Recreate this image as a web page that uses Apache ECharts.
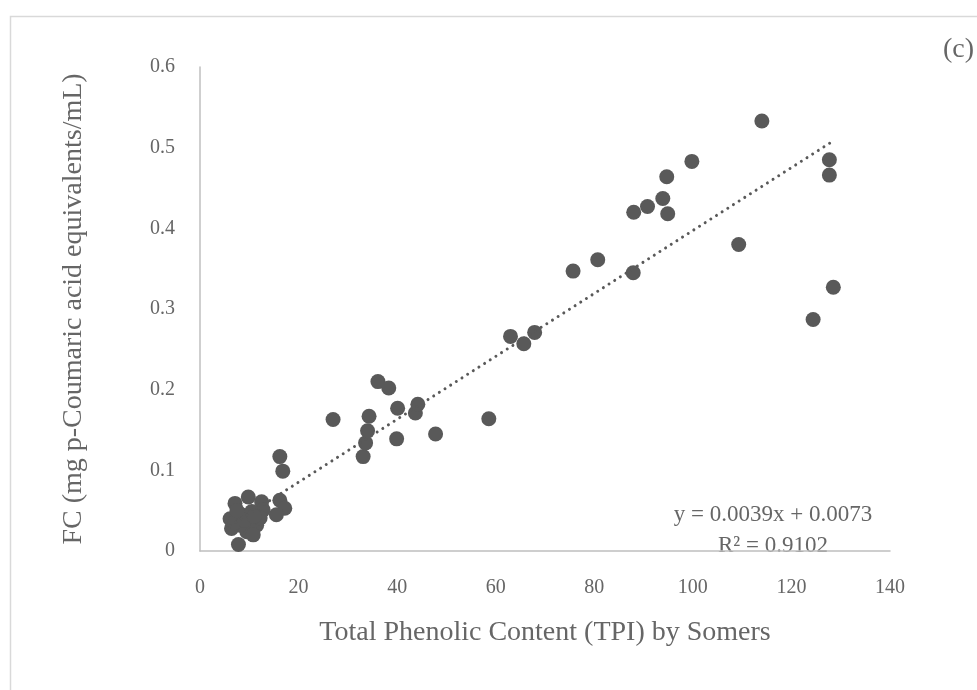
<!DOCTYPE html>
<html>
<head>
<meta charset="utf-8">
<script src="https://cdn.jsdelivr.net/npm/echarts@6/dist/echarts.min.js"></script>
<style>
  html, body { margin: 0; padding: 0; background: #fff; }
  #chart { width: 977px; height: 690px; }
</style>
</head>
<body>
<div id="chart"></div>
<script>
// TPI (Somers) values
var tpi = [
  7.1, 9.8, 12.5, 12.8, 6.1, 6.4, 7.8, 9.5, 11.5, 12.2, 8.4, 10.5, 8.1, 10.8, 7.0, 9.0, 11.0, 7.5,
  16.2, 17.2, 15.5, 16.2, 16.8,
  27.0, 33.1, 33.6, 34.0, 34.3, 36.1, 38.3, 39.9, 40.1, 43.7, 44.2, 47.8, 58.6,
  63.0, 65.7, 67.9, 75.7, 80.7, 87.9, 88.0, 90.8, 93.9, 94.9, 94.7, 99.8,
  109.3, 114.0, 124.4, 127.7, 127.7, 128.5
];
// FC (mg p-coumaric acid equivalents/mL)
var fc = [
  0.059, 0.067, 0.061, 0.051, 0.040, 0.028, 0.008, 0.024, 0.032, 0.041, 0.045, 0.049, 0.032, 0.020, 0.035, 0.038, 0.043, 0.050,
  0.063, 0.053, 0.045, 0.117, 0.099,
  0.163, 0.117, 0.134, 0.149, 0.167, 0.210, 0.202, 0.139, 0.177, 0.171, 0.182, 0.145, 0.164,
  0.266, 0.257, 0.271, 0.347, 0.361, 0.345, 0.420, 0.427, 0.437, 0.418, 0.464, 0.483,
  0.380, 0.533, 0.287, 0.485, 0.466, 0.327
];
// linear trendline from the picture
var slope = 0.0039;
var intercept = 0.0073;
var r2 = 0.9102;

var xTicks = [0, 20, 40, 60, 80, 100, 120, 140];
var yTicks = [0, 0.1, 0.2, 0.3, 0.4, 0.5, 0.6];

var points = tpi.map(function (x, i) { return [x, fc[i]]; });
var xMin = Math.min.apply(null, tpi);
var xMax = Math.max.apply(null, tpi);
var trend = [xMin, xMax].map(function (x) { return [x, slope * x + intercept]; });

var font = "'Liberation Serif', 'Times New Roman', serif";
var textColor = '#666666';
var axisColor = '#bfbfbf';

var chart = echarts.init(document.getElementById('chart'));
chart.setOption({
  animation: false,
  backgroundColor: '#ffffff',
  grid: { left: 200, top: 67, width: 690, height: 484 },
  xAxis: {
    type: 'value',
    min: xTicks[0],
    max: xTicks[xTicks.length - 1],
    interval: 20,
    name: 'Total Phenolic Content (TPI) by Somers',
    nameLocation: 'middle',
    nameGap: 68,
    nameTextStyle: { fontFamily: font, fontSize: 28, color: textColor },
    axisLine: { show: true, onZero: false, lineStyle: { color: axisColor, width: 1.5 } },
    axisTick: { show: false },
    splitLine: { show: false },
    axisLabel: { fontFamily: font, fontSize: 20, color: textColor, margin: 27 }
  },
  yAxis: {
    type: 'value',
    min: yTicks[0],
    max: yTicks[yTicks.length - 1],
    interval: 0.1,
    name: 'FC (mg p-Coumaric acid equivalents/mL)',
    nameLocation: 'middle',
    nameGap: 112,
    nameRotate: 90,
    nameTextStyle: { fontFamily: font, fontSize: 28, color: textColor },
    axisLine: { show: true, onZero: false, lineStyle: { color: axisColor, width: 1.5 } },
    axisTick: { show: false },
    splitLine: { show: false },
    axisLabel: {
      fontFamily: font, fontSize: 20, color: textColor, margin: 25,
      formatter: function (v) { return String(Math.round(v * 10) / 10); }
    }
  },
  series: [
    {
      type: 'scatter',
      data: points,
      symbol: 'circle',
      symbolSize: 15,
      itemStyle: { color: '#595959', opacity: 1 },
      z: 2
    },
    {
      type: 'line',
      data: trend,
      symbol: 'none',
      lineStyle: { color: '#595959', width: 3, type: [0.01, 6.7], cap: 'round' },
      z: 3
    }
  ],
  graphic: [
    {
      type: 'rect',
      shape: { x: 10.5, y: 16.5, width: 1000, height: 700 },
      style: { fill: 'none', stroke: '#d9d9d9', lineWidth: 1.5 },
      z: -1
    },
    {
      type: 'text',
      left: 943, top: 36,
      style: { text: '(c)', font: '28px ' + font, fill: textColor }
    },
    {
      type: 'text',
      x: 773, y: 515,
      style: {
        text: 'y = ' + slope.toFixed(4) + 'x + ' + intercept.toFixed(4),
        font: '23px ' + font, fill: textColor, align: 'center', verticalAlign: 'middle'
      }
    },
    {
      type: 'text',
      x: 773, y: 546,
      style: {
        text: 'R² = ' + r2.toFixed(4),
        font: '23px ' + font, fill: textColor, align: 'center', verticalAlign: 'middle'
      }
    }
  ]
});
</script>
</body>
</html>
